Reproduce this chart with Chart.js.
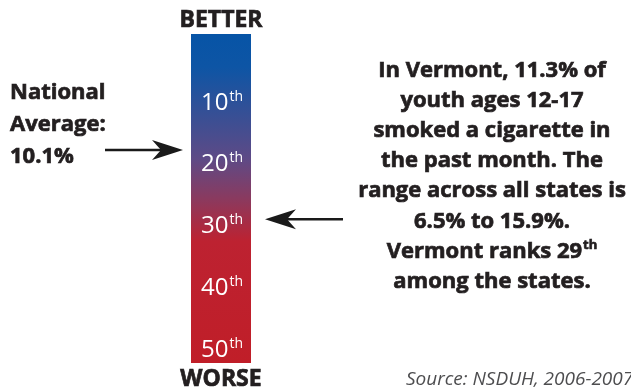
<!DOCTYPE html>
<html>
<head>
<meta charset="utf-8">
<script src="https://cdn.jsdelivr.net/npm/chart.js@4"></script>
<style>
  body { margin: 0; background: #fff; }
  #wrap { width: 631px; height: 388px; position: relative; }
</style>
</head>
<body>
<div id="wrap"><canvas id="rankChart"></canvas></div>
<script>
// data
const rankTicks = [10, 20, 30, 40, 50];
const rankExtent = [-0.8, 52.5];     // top and bottom of the bar, in rank units
const nationalRank = 18;             // where the national average arrow points
const vermontRank = 29.2;            // where the Vermont arrow points
const leftLines = ['National', 'Average:', '10.1%'];
const rightLines = [
  'In Vermont, 11.3% of',
  'youth ages 12-17',
  'smoked a cigarette in',
  'the past month. The',
  'range across all states is',
  '6.5% to 15.9%.',
  'Vermont ranks 29|th',
  'among the states.'
];
const sourceText = 'Source: NSDUH, 2006-2007';

const ink = '#231f20';
const bold = '700 22px "Open Sans", sans-serif';

// gradient blue -> purple -> red, built from the chart area
function barGradient(context) {
  const area = context.chart.chartArea;
  if (!area) return '#6a4680';
  const g = context.chart.ctx.createLinearGradient(0, area.top, 0, area.bottom);
  g.addColorStop(0, '#0754a6');
  g.addColorStop(0.1, '#0d55a5');
  g.addColorStop(0.38, '#5e4a86');
  g.addColorStop(0.5, '#8a3a5f');
  g.addColorStop(0.63, '#bd2231');
  g.addColorStop(1, '#c01e28');
  return g;
}

// fill (and optionally thicken) a piece of text
function put(ctx, t, x, y, heavy) {
  ctx.fillText(t, x, y);
  if (heavy) ctx.strokeText(t, x, y);
}

// draw text with an optional superscript part after '|'
function supText(ctx, text, x, y, font, supFont, align, rise, heavy) {
  const parts = text.split('|');
  ctx.font = font;
  const w1 = ctx.measureText(parts[0]).width;
  let w2 = 0;
  if (parts[1]) { ctx.font = supFont; w2 = ctx.measureText(parts[1]).width + 1; }
  let start = x;
  if (align === 'center') start = x - (w1 + w2) / 2;
  ctx.textAlign = 'left';
  ctx.font = font;
  put(ctx, parts[0], start, y, heavy);
  if (parts[1]) {
    ctx.font = supFont;
    put(ctx, parts[1], start + w1 + 1, y - rise, heavy);
  }
}

function arrow(ctx, x1, x2, y) {
  const dir = x2 > x1 ? 1 : -1;
  ctx.save();
  ctx.strokeStyle = '#1a1a1a';
  ctx.fillStyle = '#1a1a1a';
  ctx.lineWidth = 2.5;
  ctx.beginPath();
  ctx.moveTo(x1, y);
  ctx.lineTo(x2 - dir * 20, y);
  ctx.stroke();
  ctx.beginPath();
  ctx.moveTo(x2, y);
  ctx.lineTo(x2 - dir * 31, y - 10);
  ctx.lineTo(x2 - dir * 22, y);
  ctx.lineTo(x2 - dir * 31, y + 10);
  ctx.closePath();
  ctx.fill();
  ctx.restore();
}

const overlay = {
  id: 'overlay',
  afterDatasetsDraw(chart) {
    const ctx = chart.ctx;
    const y = chart.scales.y;
    const area = chart.chartArea;
    const cx = (area.left + area.right) / 2;
    ctx.save();
    ctx.textBaseline = 'alphabetic';

    // rank labels inside the bar
    ctx.fillStyle = '#ffffff';
    rankTicks.forEach(r => {
      supText(ctx, r + '|th', cx + 1, y.getPixelForValue(r) + 9,
        '400 24px "Open Sans", sans-serif', '400 14px "Open Sans", sans-serif', 'center', 9, false);
    });

    // BETTER / WORSE
    ctx.fillStyle = ink;
    ctx.strokeStyle = ink;
    ctx.lineWidth = 0.7;
    ctx.font = '700 23px "Open Sans", sans-serif';
    ctx.textAlign = 'center';
    put(ctx, 'BETTER', cx, 27, true);
    put(ctx, 'WORSE', cx, 386, true);

    // left note
    ctx.textAlign = 'left';
    leftLines.forEach((t, i) => {
      ctx.font = bold;
      put(ctx, t, 10, 99 + i * 32, true);
    });

    // right note
    rightLines.forEach((t, i) => {
      supText(ctx, t, 492, 77 + i * 30.1, bold, '700 13px "Open Sans", sans-serif', 'center', 9, true);
    });

    // source
    ctx.fillStyle = '#4d4d4f';
    ctx.font = 'italic 400 19px "Open Sans", sans-serif';
    ctx.textAlign = 'left';
    ctx.fillText(sourceText, 406, 385);
    ctx.restore();

    // arrows
    arrow(ctx, 105, 183, y.getPixelForValue(nationalRank));
    arrow(ctx, 343, 265, y.getPixelForValue(vermontRank));
  }
};

new Chart(document.getElementById('rankChart'), {
  type: 'bar',
  data: {
    labels: ['Rank'],
    datasets: [{
      data: [rankExtent],
      backgroundColor: barGradient,
      borderWidth: 0,
      barPercentage: 1,
      categoryPercentage: 1
    }]
  },
  options: {
    responsive: true,
    maintainAspectRatio: false,
    animation: false,
    layout: { padding: { left: 191, right: 380, top: 34, bottom: 25 } },
    plugins: { legend: { display: false }, tooltip: { enabled: false } },
    scales: {
      x: { display: false },
      y: { display: false, reverse: true, min: rankExtent[0], max: rankExtent[1] }
    }
  },
  plugins: [overlay]
});
</script>
</body>
</html>
